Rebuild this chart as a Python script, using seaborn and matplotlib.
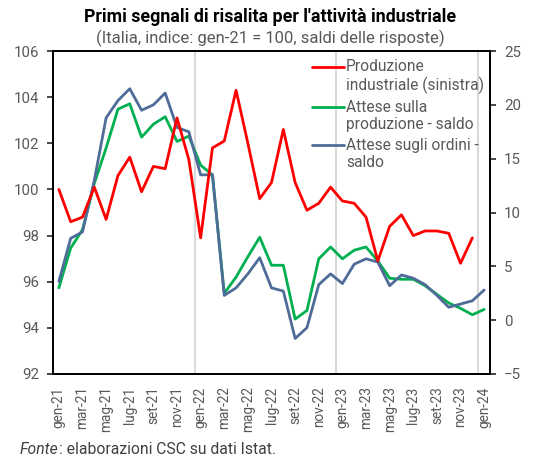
import numpy as np
import pandas as pd
import seaborn as sns
import matplotlib.pyplot as plt
from matplotlib.lines import Line2D
from matplotlib.legend_handler import HandlerLine2D

# months gen-21 .. gen-24
mesi = ["gen", "feb", "mar", "apr", "mag", "giu", "lug", "ago", "set", "ott", "nov", "dic"]
months = [f"{m}-{y}" for y in (21, 22, 23) for m in mesi] + ["gen-24"]

# Produzione industriale (indice gen-21 = 100), left axis, ends dic-23
produzione = [100.0, 98.6, 98.8, 100.1, 98.7, 100.6, 101.4, 99.9, 101.0, 100.9, 103.1, 101.3,
              97.9, 101.8, 102.1, 104.3, 102.0, 99.6, 100.3, 102.6, 100.3, 99.1, 99.4, 100.1,
              99.5, 99.4, 98.8, 96.9, 98.4, 98.9, 98.0, 98.2, 98.2, 98.1, 96.8, 97.9]

# Attese sulla produzione - saldo (right axis)
attese_prod = [3.0, 6.7, 8.4, 12.7, 16.0, 19.6, 20.1, 17.0, 18.2, 18.9, 16.6, 17.1,
               14.4, 13.5, 2.5, 4.0, 5.9, 7.7, 5.1, 5.1, 0.1, 0.9, 5.7, 6.8,
               5.7, 6.5, 6.8, 5.5, 3.9, 3.8, 3.8, 3.2, 2.4, 1.6, 1.1, 0.5, 1.0]

# Attese sugli ordini - saldo (right axis)
attese_ord = [3.6, 7.6, 8.2, 13.0, 18.8, 20.4, 21.5, 19.5, 20.0, 21.1, 17.9, 17.5,
              13.5, 13.5, 2.3, 3.0, 4.3, 5.8, 3.0, 2.7, -1.7, -0.7, 3.3, 4.3,
              3.4, 5.2, 5.7, 5.4, 3.2, 4.2, 3.9, 3.3, 2.3, 1.2, 1.5, 1.8, 2.8]

labels = ["Produzione\nindustriale (sinistra)",
          "Attese sulla\nproduzione - saldo",
          "Attese sugli ordini -\nsaldo"]
colors = ["#FF0000", "#00B050", "#4E6C97"]


class TopLine(HandlerLine2D):
    # legend line next to the first text row, like Excel does
    def create_artists(self, legend, orig_handle, xdescent, ydescent, width, height,
                       fontsize, trans):
        arts = super().create_artists(legend, orig_handle, xdescent, ydescent, width,
                                      height, fontsize, trans)
        for a in arts:
            a.set_ydata(np.asarray(a.get_ydata()) + 0.6 * fontsize)
        return arts


sns.set_style("white")
plt.rcParams["font.family"] = ["Roboto", "DejaVu Sans"]
txt_col = "#595959"

df_l = pd.DataFrame({"x": np.arange(len(produzione)), "v": produzione})
df_r = pd.DataFrame({"x": np.arange(len(months)), "prod": attese_prod, "ord": attese_ord})

fig = plt.figure(figsize=(5.35, 4.62), dpi=100)
ax = fig.add_axes([0.099, 0.1905, 0.817, 0.699])
ax2 = ax.twinx()
# red line drawn on top of the survey lines
ax.set_zorder(ax2.get_zorder() + 1)
ax.patch.set_visible(False)

lw = 2.0
sns.lineplot(data=df_r, x="x", y="prod", ax=ax2, color=colors[1], lw=lw)
sns.lineplot(data=df_r, x="x", y="ord", ax=ax2, color=colors[2], lw=lw)
sns.lineplot(data=df_l, x="x", y="v", ax=ax, color=colors[0], lw=lw)

ax.set_xlim(-0.5, len(months) - 0.5)
ax.set_ylim(92, 106)
ax.set_yticks(np.arange(92, 107, 2))
ax2.set_ylim(-5, 25)
ax2.set_yticks(np.arange(-5, 26, 5))

ax.set_xticks(np.arange(0, len(months), 2))
ax.set_xticklabels(months[::2], rotation=90)
ax.set_xticks(np.arange(-0.5, len(months), 12), minor=True)
ax.tick_params(axis="x", which="major", length=0, pad=9, labelsize=9.8, labelcolor=txt_col)
ax.tick_params(axis="x", which="minor", length=5, width=1.2, color="black", direction="out")
ax.tick_params(axis="y", length=4, width=1.2, labelsize=10.8, labelcolor=txt_col, pad=6, left=True)
ax2.tick_params(axis="y", length=4, width=1.2, labelsize=10.8, labelcolor=txt_col, pad=6, right=True)
ax2.grid(False)
ax.grid(False)
for xv in np.arange(11.5, len(months), 12):
    ax2.axvline(xv, color="#d9d9d9", lw=1.5, zorder=0)

for a in (ax, ax2):
    a.set_xlabel("")
    a.set_ylabel("")
    for s in a.spines.values():
        s.set_color("black")
        s.set_linewidth(1.3)

handles = [Line2D([], [], color=c, lw=lw) for c in colors]
leg = ax.legend(handles, labels, loc="upper left", bbox_to_anchor=(0.585, 0.986),
                frameon=False, fontsize=11.2, handlelength=2.1, handletextpad=0.1,
                borderaxespad=0, borderpad=0.2, labelspacing=0.38,
                handler_map={Line2D: TopLine()})
for t in leg.get_texts():
    t.set_color(txt_col)

fig.text(0.505, 0.963, "Primi segnali di risalita per l'attività industriale",
         ha="center", va="center", fontsize=12.8, fontweight="bold", color="black")
fig.text(0.505, 0.918, "(Italia, indice: gen-21 = 100, saldi delle risposte)",
         ha="center", va="center", fontsize=12, color=txt_col)
fonte = fig.text(0.037, 0.026, "Fonte", ha="left", va="center", fontsize=11.3,
                 style="italic", color="#404040")
ax.annotate(": elaborazioni CSC su dati Istat.", xy=(1.0, 0.5), xycoords=fonte,
            ha="left", va="center", fontsize=11.3, color="#404040", annotation_clip=False)

fig.savefig("out.png", dpi=100)
